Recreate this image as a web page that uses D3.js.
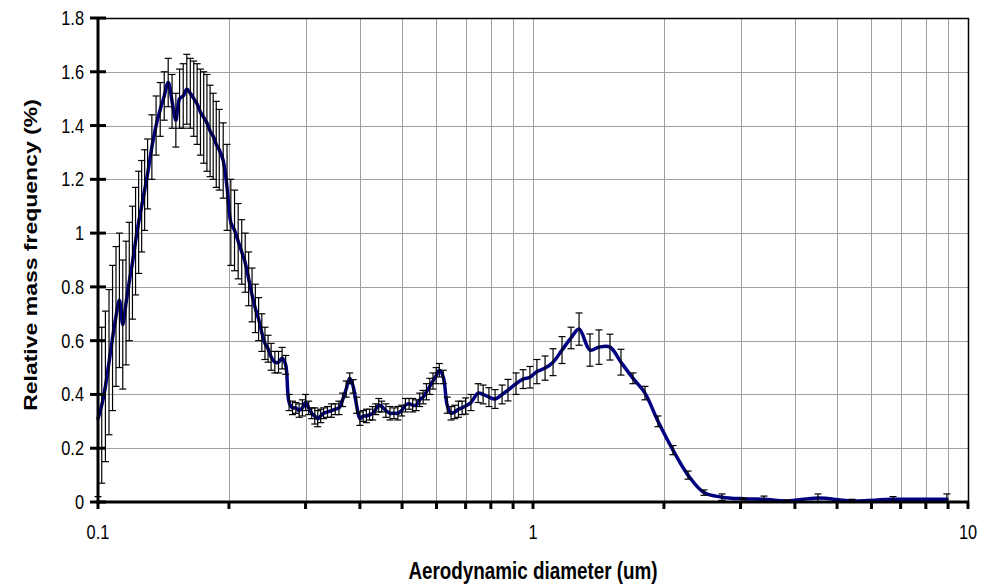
<!DOCTYPE html>
<html>
<head>
<meta charset="utf-8">
<script src="https://cdn.jsdelivr.net/npm/d3@7"></script>
<style>
  html, body { margin: 0; padding: 0; background: #ffffff; }
  svg { display: block; }
  text { font-family: "Liberation Sans", Arial, sans-serif; fill: #000; }
</style>
</head>
<body>
<svg id="chart" width="985" height="587"></svg>
<script>
// Aerodynamic diameter (um)
const diameters = [
  0.100, 0.102, 0.104, 0.106, 0.108, 0.110, 0.112, 0.114, 0.116, 0.118, 0.120, 0.122, 0.124, 0.126, 0.128, 0.130,
  0.133, 0.136, 0.139, 0.142, 0.145, 0.148, 0.151, 0.154, 0.157, 0.160, 0.163, 0.166, 0.169, 0.172, 0.175, 0.178, 0.181, 0.184, 0.187, 0.190,
  0.194, 0.198, 0.202, 0.206, 0.210, 0.214, 0.218, 0.222, 0.226, 0.230, 0.234, 0.238, 0.242, 0.246, 0.250,
  0.255, 0.260, 0.265, 0.270, 0.275, 0.280, 0.285, 0.290, 0.295, 0.300, 0.305, 0.310, 0.315, 0.320, 0.325, 0.330,
  0.337, 0.344, 0.351, 0.358, 0.365, 0.372, 0.379, 0.386, 0.393, 0.400, 0.407, 0.414, 0.421, 0.428, 0.435, 0.442, 0.449,
  0.459, 0.469, 0.479, 0.489, 0.499, 0.509, 0.519, 0.529, 0.539, 0.549, 0.559, 0.569, 0.579, 0.589, 0.599, 0.609,
  0.622, 0.635, 0.648, 0.661, 0.674, 0.687, 0.700,
  0.720, 0.748, 0.768, 0.792, 0.818, 0.849, 0.876, 0.914, 0.949, 0.984,
  1.021, 1.066, 1.112, 1.166, 1.223, 1.276, 1.352, 1.418, 1.503, 1.593,
  1.698, 1.809, 1.938, 2.098, 2.272, 2.472, 2.720, 3.039, 3.396, 3.836,
  4.520, 5.412, 6.724, 8.944
];
// Relative mass frequency (%)
const massFreq = [
  0.31, 0.36, 0.43, 0.52, 0.61, 0.69, 0.75, 0.66, 0.74, 0.82, 0.89, 0.97, 1.04, 1.10, 1.16, 1.22,
  1.32, 1.40, 1.46, 1.51, 1.56, 1.49, 1.42, 1.50, 1.51, 1.535, 1.52, 1.50, 1.48, 1.45, 1.43, 1.41, 1.38, 1.36, 1.33, 1.31,
  1.27, 1.17, 1.04, 1.01, 0.97, 0.93, 0.89, 0.83, 0.77, 0.72, 0.68, 0.63, 0.59, 0.57, 0.54,
  0.52, 0.52, 0.535, 0.51, 0.37, 0.35, 0.35, 0.34, 0.35, 0.37, 0.35, 0.33, 0.32, 0.31, 0.32, 0.33,
  0.335, 0.34, 0.345, 0.35, 0.38, 0.42, 0.46, 0.43, 0.36, 0.31, 0.32, 0.32, 0.325, 0.33, 0.345, 0.36, 0.355,
  0.34, 0.33, 0.33, 0.33, 0.34, 0.36, 0.365, 0.36, 0.36, 0.38, 0.39, 0.41, 0.43, 0.45, 0.47, 0.49,
  0.465, 0.36, 0.33, 0.335, 0.345, 0.35, 0.357,
  0.37, 0.405, 0.40, 0.39, 0.383, 0.40, 0.416, 0.44, 0.457, 0.464,
  0.485, 0.498, 0.52, 0.565, 0.61, 0.643, 0.565, 0.576, 0.576, 0.52,
  0.46, 0.405, 0.30, 0.193, 0.10, 0.035, 0.018, 0.012, 0.010, 0.004,
  0.015, 0.004, 0.010, 0.010
];
// Error (+/-)
const errors = [
  0.29, 0.29, 0.28, 0.27, 0.27, 0.26, 0.25, 0.24, 0.23, 0.22, 0.21, 0.20, 0.19, 0.17, 0.15, 0.13,
  0.12, 0.11, 0.10, 0.09, 0.09, 0.10, 0.10, 0.11, 0.12, 0.13, 0.13, 0.14, 0.15, 0.16, 0.17, 0.18, 0.17, 0.16, 0.16, 0.15,
  0.14, 0.16, 0.16, 0.15, 0.14, 0.12, 0.11, 0.10, 0.10, 0.09, 0.08, 0.07, 0.06, 0.05, 0.05,
  0.04, 0.04, 0.04, 0.035, 0.03, 0.025, 0.02, 0.025, 0.03, 0.03, 0.025, 0.02, 0.03, 0.03, 0.025, 0.02,
  0.02, 0.025, 0.02, 0.025, 0.025, 0.03, 0.02, 0.025, 0.03, 0.025, 0.02, 0.025, 0.02, 0.025, 0.02, 0.025, 0.02,
  0.025, 0.025, 0.02, 0.025, 0.02, 0.025, 0.02, 0.025, 0.02, 0.025, 0.025, 0.03, 0.03, 0.03, 0.03, 0.025,
  0.025, 0.03, 0.025, 0.025, 0.03, 0.025, 0.03,
  0.03, 0.035, 0.035, 0.035, 0.035, 0.035, 0.04, 0.04, 0.035, 0.04,
  0.045, 0.045, 0.05, 0.05, 0.04, 0.06, 0.06, 0.064, 0.048, 0.048,
  0.02, 0.025, 0.02, 0.017, 0.015, 0.01, 0.012, 0.003, 0.012, 0.003,
  0.015, 0.006, 0.01, 0.02
];
const yTickValues = [0, 0.2, 0.4, 0.6, 0.8, 1, 1.2, 1.4, 1.6, 1.8];
const xTickLabels = [0.1, 1, 10];
const xGridValues = [0.2, 0.3, 0.4, 0.5, 0.6, 0.7, 0.8, 0.9, 1, 2, 3, 4, 5, 6, 7, 8, 9];
const xTickValues = [0.1, 0.2, 0.3, 0.4, 0.5, 0.6, 0.7, 0.8, 0.9, 1, 2, 3, 4, 5, 6, 7, 8, 9, 10];

const data = diameters.map((d, i) => ({ d, v: massFreq[i], e: errors[i] }));

const svg = d3.select("#chart");
const L = 98, R = 968, T = 18, B = 502;
const x = d3.scaleLog().domain([0.1, 10]).range([L, R]);
const y = d3.scaleLinear().domain([0, 1.8]).range([B, T]);
const SX = 0.82; // horizontal squeeze of the text

// gridlines
const grid = svg.append("g");
grid.selectAll("line.v").data(xGridValues).join("line")
  .attr("x1", d => Math.round(x(d)) + 0.5).attr("x2", d => Math.round(x(d)) + 0.5)
  .attr("y1", T).attr("y2", B)
  .attr("stroke", "#a0a0a0").attr("stroke-width", 1);
grid.selectAll("line.h").data(yTickValues.filter(v => v > 0 && v < 1.8)).join("line")
  .attr("x1", L).attr("x2", R)
  .attr("y1", d => Math.round(y(d)) + 0.5).attr("y2", d => Math.round(y(d)) + 0.5)
  .attr("stroke", "#a0a0a0").attr("stroke-width", 1);

// frame top/right
svg.append("line").attr("x1", L).attr("x2", R + 1).attr("y1", T + 0.5).attr("y2", T + 0.5)
  .attr("stroke", "#000").attr("stroke-width", 1.5);
svg.append("line").attr("x1", R + 0.5).attr("x2", R + 0.5).attr("y1", T).attr("y2", B)
  .attr("stroke", "#000").attr("stroke-width", 1.5);

// series line
const line = d3.line().x(p => x(p.d)).y(p => y(p.v)).curve(d3.curveCatmullRom.alpha(0.5));
svg.append("path").datum(data).attr("d", line)
  .attr("fill", "none").attr("stroke", "#000080").attr("stroke-width", 3.5)
  .attr("stroke-linejoin", "round").attr("stroke-linecap", "round");

// error bars
const eb = svg.append("g").attr("stroke", "#000").attr("stroke-width", 1.2);
const capW = 3.5;
data.forEach(p => {
  const cx = x(p.d), y1 = y(p.v + p.e), y0 = y(Math.max(0, p.v - p.e));
  eb.append("line").attr("x1", cx).attr("x2", cx).attr("y1", y1).attr("y2", y0);
  eb.append("line").attr("x1", cx - capW).attr("x2", cx + capW).attr("y1", y1).attr("y2", y1);
  if (p.v - p.e > 0) eb.append("line").attr("x1", cx - capW).attr("x2", cx + capW).attr("y1", y0).attr("y2", y0);
});

// axes
svg.append("line").attr("x1", L).attr("x2", L).attr("y1", T - 1).attr("y2", B + 2)
  .attr("stroke", "#000").attr("stroke-width", 3);
svg.append("line").attr("x1", L - 1).attr("x2", R + 1).attr("y1", B).attr("y2", B)
  .attr("stroke", "#000").attr("stroke-width", 3);
svg.selectAll("line.yt").data(yTickValues).join("line")
  .attr("x1", L - 8).attr("x2", L + 8).attr("y1", d => y(d)).attr("y2", d => y(d))
  .attr("stroke", "#000").attr("stroke-width", 3);
svg.selectAll("line.xt").data(xTickValues).join("line")
  .attr("x1", d => x(d)).attr("x2", d => x(d)).attr("y1", B).attr("y2", B + 7)
  .attr("stroke", "#000").attr("stroke-width", 3);

// tick labels
const fmtY = d => d === 0 ? "0" : (Number.isInteger(d) ? String(d) : d.toFixed(1));
yTickValues.forEach(v => {
  svg.append("text")
    .attr("transform", `translate(84,${y(v) + 7}) scale(${SX},1)`)
    .attr("text-anchor", "end").attr("font-size", 20)
    .text(fmtY(v));
});
xTickLabels.forEach(v => {
  svg.append("text")
    .attr("transform", `translate(${x(v)},539) scale(${SX},1)`)
    .attr("text-anchor", "middle").attr("font-size", 20)
    .text(String(v));
});

// axis titles
svg.append("text")
  .attr("transform", `translate(533,579) scale(${SX},1)`)
  .attr("text-anchor", "middle").attr("font-size", 23).attr("font-weight", "bold")
  .text("Aerodynamic diameter (um)");
svg.append("text")
  .attr("transform", `translate(37,255) scale(${SX},1) rotate(-90)`)
  .attr("text-anchor", "middle").attr("font-size", 23).attr("font-weight", "bold")
  .text("Relative mass frequency (%)");
</script>
</body>
</html>
